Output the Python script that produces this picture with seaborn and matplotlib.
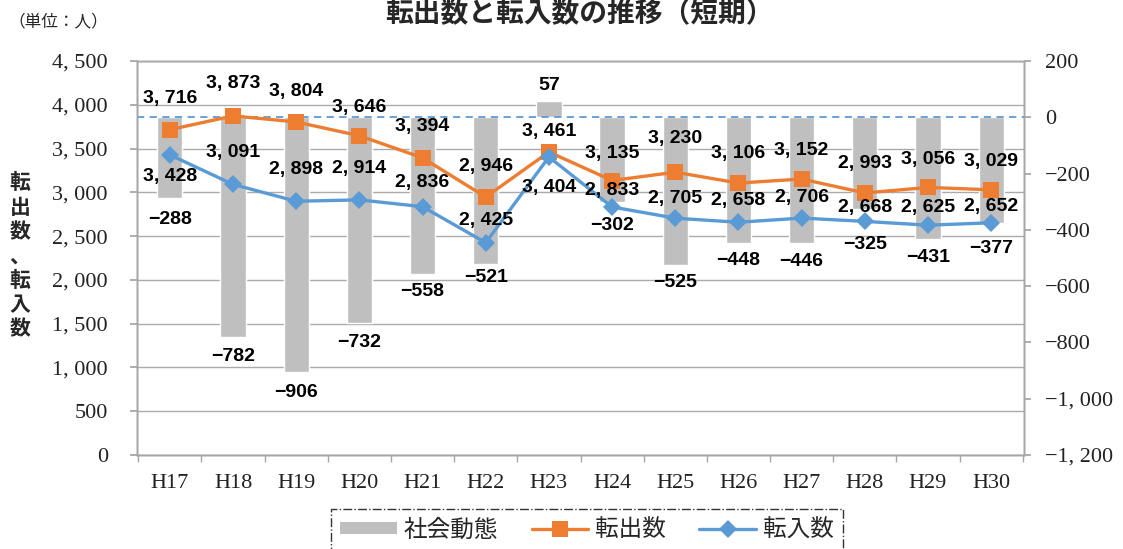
import matplotlib
matplotlib.use("Agg")
import matplotlib.pyplot as plt
from matplotlib.patches import Patch
from matplotlib.lines import Line2D
import seaborn as sns
import pandas as pd

# chart values
years = ["H17", "H18", "H19", "H20", "H21", "H22", "H23",
         "H24", "H25", "H26", "H27", "H28", "H29", "H30"]
tenshutsu = [3716, 3873, 3804, 3646, 3394, 2946, 3461,
             3135, 3230, 3106, 3152, 2993, 3056, 3029]
tennyu = [3428, 3091, 2898, 2914, 2836, 2425, 3404,
          2833, 2705, 2658, 2706, 2668, 2625, 2652]
shakai = [-288, -782, -906, -732, -558, -521, 57,
          -302, -525, -448, -446, -325, -431, -377]

left_ticks = [0, 500, 1000, 1500, 2000, 2500, 3000, 3500, 4000, 4500]
right_ticks = [-1200, -1000, -800, -600, -400, -200, 0, 200]

# label offsets in pixels (vertical)
off_out = [31, 32, 30, 28, 31, 31, 20, 27, 34, 30, 29, 29, 28, 28]
off_in = [-22, 32, 32, 31, 24, 22, -31, 16, 20, 22, 21, 14, 18, 16]
off_bar = [-21, -19, -20, -19, -17, -14, 16, -23, -17, -17, -19, -36, -19, -25]

ORANGE = "#ED7D31"
BLUE = "#5B9BD5"
GRAY = "#BFBFBF"


def fmt(v):
    s = "{:,}".format(abs(v)).replace(",", ", ")
    return ("\u2212" + s) if v < 0 else s


df = pd.DataFrame({"year": years, "out": tenshutsu, "in": tennyu, "net": shakai})

sns.set_theme(style="white")
plt.rcParams["font.family"] = ["Noto Sans CJK JP", "DejaVu Sans"]

fig = plt.figure(figsize=(11.23, 5.49), dpi=100)
rect = [137 / 1123, 1 - 455 / 549, (1024 - 137) / 1123, (455 - 61) / 549]
ax = fig.add_axes(rect)          # left axis + grid
ax_bar = ax.twinx()              # bars, right axis
ax_line = ax.twinx()             # lines, shares left scale

# bars
sns.barplot(data=df, x="year", y="net", color=GRAY, width=0.4,
            saturation=1, ax=ax_bar, zorder=2)
ax_bar.axhline(0, color=BLUE, ls=(0, (4, 3)), lw=1.3, zorder=3)
ax_bar.set_ylim(-1200, 200)
ax_bar.set_yticks(right_ticks)
ax_bar.set_yticklabels([fmt(t) for t in right_ticks])
ax_bar.set_ylabel("")
ax_bar.set_xlabel("")

# lines
sns.lineplot(data=df, x="year", y="out", color=ORANGE, lw=2.4, marker="s",
             markersize=11, markeredgewidth=0, sort=False, ax=ax_line)
sns.lineplot(data=df, x="year", y="in", color=BLUE, lw=2.4, marker="D",
             markersize=9, markeredgewidth=0, sort=False, ax=ax_line)
ax_line.set_ylim(0, 4500)
ax_line.set_yticks([])
ax_line.set_ylabel("")
ax_line.set_xlabel("")

ax.set_ylim(0, 4500)
ax.set_yticks(left_ticks)
ax.set_yticklabels([fmt(t) for t in left_ticks])
ax.yaxis.grid(True, color="#ABABAB", lw=1)
ax.set_axisbelow(True)

for a in (ax, ax_bar, ax_line):
    a.set_xlim(-0.52, len(years) - 0.48)
    for s in a.spines.values():
        s.set_color("#A6A6A6")
        s.set_linewidth(1)
    a.spines["top"].set_color("#ABABAB")

ax.set_xticks(range(len(years)))
ax.set_xticklabels(years)
ax.set_xticks([i + 0.5 for i in range(-1, len(years))], minor=True)
ax.tick_params(axis="x", which="major", length=0, pad=14)
ax.tick_params(axis="x", which="minor", length=5, color="#A6A6A6", direction="out", bottom=True)
ax.tick_params(axis="y", length=5, color="#A6A6A6", direction="out", left=True, pad=16)
ax_bar.tick_params(axis="y", length=5, color="#A6A6A6", direction="out", right=True, pad=10)
ax_bar.tick_params(axis="x", length=0, labelbottom=False)
ax_line.tick_params(axis="x", length=0, labelbottom=False)

tick_font = ["Liberation Serif", "DejaVu Serif"]
for lab in ax.get_yticklabels() + ax.get_xticklabels() + ax_bar.get_yticklabels():
    lab.set_family(tick_font)
    lab.set_fontsize(16)
    lab.set_color("#222222")

num_font = ["Liberation Sans", "DejaVu Sans"]
for i in range(len(years)):
    ax_line.annotate(fmt(tenshutsu[i]), (i, tenshutsu[i]), xytext=(0, off_out[i]),
                     textcoords="offset pixels", ha="center", va="center", color="black",
                     fontsize=14, fontweight="bold", family=num_font, zorder=6)
    ax_line.annotate(fmt(tennyu[i]), (i, tennyu[i]), xytext=(0, off_in[i]),
                     textcoords="offset pixels", ha="center", va="center", color="black",
                     fontsize=14, fontweight="bold", family=num_font, zorder=6)
    ax_bar.annotate(fmt(shakai[i]), (i, shakai[i]), xytext=(0, off_bar[i]),
                    textcoords="offset pixels", ha="center", va="center", color="black",
                    fontsize=14, fontweight="bold", family=num_font, zorder=6)

# titles and labels
fig.text(579 / 1123, 1 - 14 / 549, "転出数と転入数の推移（短期）", ha="center", va="center",
         fontsize=20, fontweight="bold")
fig.text(8 / 1123, 1 - 22 / 549, "（単位：人）", ha="left", va="center", fontsize=12)
fig.text(20 / 1123, 1 - 256 / 549, "転\n出\n数\n、\n転\n入\n数", ha="center", va="center",
         fontsize=15, fontweight="bold", linespacing=1.2)

handles = [
    Patch(facecolor=GRAY, edgecolor="none"),
    Line2D([], [], color=ORANGE, lw=2.4, marker="s", markersize=11, markeredgewidth=0),
    Line2D([], [], color=BLUE, lw=2.4, marker="D", markersize=9, markeredgewidth=0),
]
leg = fig.legend(handles, ["社会動態", "転出数", "転入数"], loc="upper center",
                 bbox_to_anchor=(587 / 1123, 1 - 509 / 549), ncol=3, frameon=True,
                 fontsize=17, handlelength=2.4, handleheight=0.45, columnspacing=1.4,
                 handletextpad=0.3, borderpad=0.4, borderaxespad=0, fancybox=False)
leg.get_frame().set_edgecolor("black")
leg.get_frame().set_linestyle("-.")
leg.get_frame().set_linewidth(1)

fig.savefig("out.png", dpi=100)
